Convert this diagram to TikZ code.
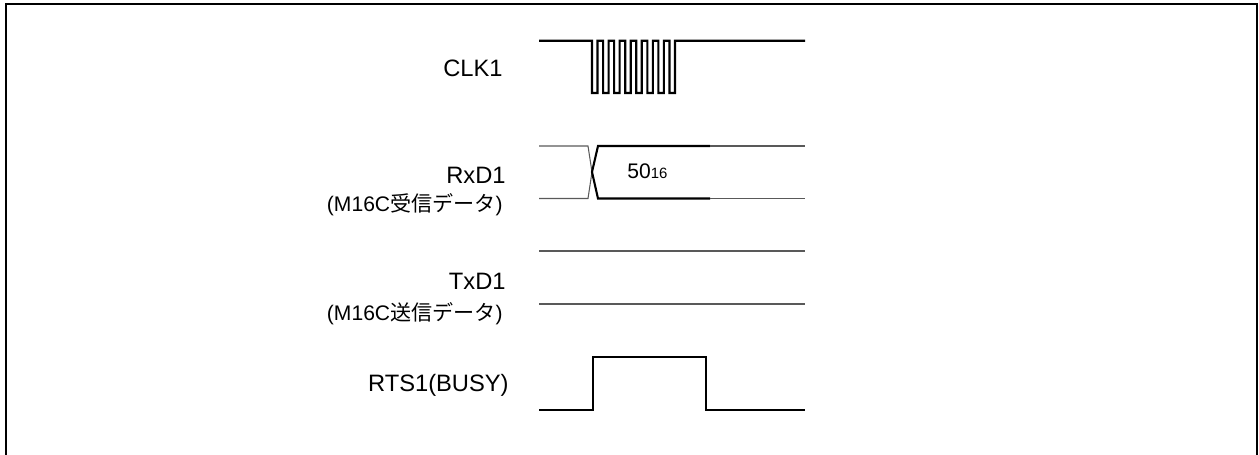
\documentclass[tikz,border=0pt]{standalone}
\usepackage{fontspec}
\setmainfont{Liberation Sans}
\newfontfamily\cjk{Noto Sans CJK JP}
\usetikzlibrary{positioning}

\begin{document}
\begin{tikzpicture}[
      x=0.02cm, y=-0.02cm,
      sig/.style={line width=1.2pt, line join=miter},
      bus/.style={line width=0.6pt, draw=black!65},
      signame/.style={font=\fontsize{13.5}{15}\selectfont, anchor=base east, inner sep=0pt},
      sublabel/.style={font=\fontsize{12}{13}\selectfont, anchor=east, inner sep=0pt},
      datalabel/.style={font=\fontsize{12}{14}\selectfont, anchor=base west, inner sep=0pt}]
    \useasboundingbox (0,0) rectangle (1259,454);
    \draw[line width=1.6pt] (6,470) -- (6,4) -- (1257,4) -- (1257,470);

    % signal names
    \node[signame] (clk) at (503,76.5) {CLK1};
    \node[signame] (rxd) at (506,183.5) {RxD1};
    \node[sublabel] (rxdsub) at (503,205) {(M16C{\cjk 受信データ})};
    \node[signame] (txd) at (506,289.5) {TxD1};
    \node[sublabel] (txdsub) at (503,314) {(M16C{\cjk 送信データ})};
    \node[signame] (rts) at (509,391.5) {RTS1(BUSY)};

    % CLK1: 8 clock pulses
    \draw[sig] (539,40.7) -- (592,40.7)
      \foreach \i in {0,...,6} {
        -- (592+11.07*\i,93) -- (597.5+11.07*\i,93) -- (597.5+11.07*\i,40.7)
        -- (603.07+11.07*\i,40.7)}
      -- (669.5,93) -- (675,93) -- (675,40.7) -- (805,40.7);

    % RxD1: received data
    \draw[bus] (539,146) -- (588,146) -- (592,172) -- (588,198.5) -- (539,198.5);
    \draw[sig] (710,146) -- (598,146) -- (592,172) -- (598,198.5) -- (710,198.5);
    \draw[bus] (710,146) -- (805,146);
    \draw[bus] (710,198.5) -- (805,198.5);
    \node[datalabel] (data) at (627,178.5) {50{\fontsize{8.5}{10}\selectfont 16}};

    % TxD1: idle
    \draw[bus] (539,251) -- (805,251);
    \draw[bus] (539,304) -- (805,304);

    % RTS1
    \draw[sig] (539,410) -- (593,410) -- (593,357.3) -- (706,357.3) -- (706,410) -- (805,410);
  \end{tikzpicture}
\end{document}
